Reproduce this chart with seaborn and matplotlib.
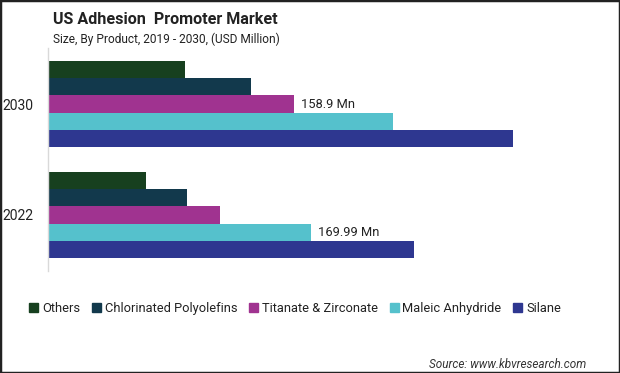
import matplotlib
matplotlib.use("Agg")
import matplotlib.pyplot as plt
import pandas as pd
import seaborn as sns

years = ["2030", "2022"]
products = [
    "Others",
    "Chlorinated Polyolefins",
    "Titanate & Zirconate",
    "Maleic Anhydride",
    "Silane",
]
values_2030 = [88.6, 131.2, 158.9, 222.8, 300.2]
values_2022 = [63.3, 89.8, 111.0, 169.99, 236.4]
colors = ["#17401f", "#12394c", "#a03390", "#55c1cc", "#2e3790"]

# label only the bars the original annotates
labels = {
    "Titanate & Zirconate": ["158.9 Mn", ""],
    "Maleic Anhydride": ["", "169.99 Mn"],
}

rows = []
for p, v30, v22 in zip(products, values_2030, values_2022):
    rows.append({"year": "2030", "product": p, "value": v30})
    rows.append({"year": "2022", "product": p, "value": v22})
df = pd.DataFrame(rows)

sns.set_style("white")
plt.rcParams["font.family"] = ["Roboto", "DejaVu Sans"]

fig = plt.figure(figsize=(6.2, 3.73), dpi=100)
ax = fig.add_axes([47.5 / 620, 102 / 373, 552.5 / 620, 223 / 373])

sns.barplot(
    data=df,
    x="value",
    y="year",
    hue="product",
    order=years,
    hue_order=products,
    palette=colors,
    orient="h",
    width=0.775,
    saturation=1,
    linewidth=0,
    ax=ax,
)

for container, p in zip(ax.containers, products):
    if p in labels:
        ax.bar_label(container, labels=labels[p], padding=5, fontsize=9.3, color="#222222")

ax.set_xlim(0, 356)
ax.set_ylim(1.505, -0.505)
ax.set_xlabel("")
ax.set_ylabel("")
ax.set_xticks([])
ax.tick_params(axis="y", length=0, pad=10, labelsize=10, labelcolor="#222222")
for side in ["top", "right", "bottom"]:
    ax.spines[side].set_visible(False)
ax.spines["left"].set_color("#d9d9d9")
ax.spines["left"].set_linewidth(1)

ax.legend_.remove()
handles = [plt.Rectangle((0, 0), 1, 1, color=c) for c in colors]
fig.legend(
    handles,
    products,
    loc="center",
    bbox_to_anchor=(0.476, 0.174),
    ncol=5,
    frameon=False,
    fontsize=9.3,
    handlelength=0.7,
    handleheight=0.7,
    handletextpad=0.3,
    columnspacing=0.9,
    labelcolor="#222222",
)

fig.text(0.0855, 0.968, "US Adhesion  Promoter Market", fontsize=11.6,
         fontweight="bold", color="#222222", va="top", ha="left")
fig.text(0.0855, 0.912, "Size, By Product, 2019 - 2030, (USD Million)",
         fontsize=8.6, color="#222222", va="top", ha="left")
fig.text(0.945, 0.024, "Source: www.kbvresearch.com", fontsize=8.5,
         style="italic", color="#333333", ha="right", va="center")

fig.add_artist(plt.Rectangle((0, 0), 1, 1, transform=fig.transFigure,
                             fill=False, ec="#222222", lw=2.5))

fig.savefig("out.png", dpi=100)
